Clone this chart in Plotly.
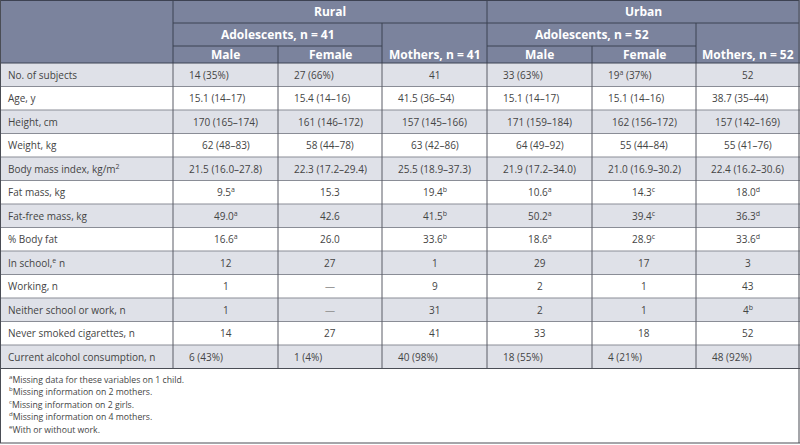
import plotly.graph_objects as go

# ---------------- data ----------------
row_labels = ["No. of subjects", "Age, y", "Height, cm", "Weight, kg",
              "Body mass index, kg/m<sup>2</sup>", "Fat mass, kg", "Fat-free mass, kg",
              "% Body fat", "In school,<sup>e</sup> n", "Working, n",
              "Neither school or work, n", "Never smoked cigarettes, n",
              "Current alcohol consumption, n"]
rural_male = ["14 (35%)", "15.1 (14–17)", "170 (165–174)", "62 (48–83)", "21.5 (16.0–27.8)",
              "9.5<sup>a</sup>", "49.0<sup>a</sup>", "16.6<sup>a</sup>", "12", "1", "1", "14", "6 (43%)"]
rural_female = ["27 (66%)", "15.4 (14–16)", "161 (146–172)", "58 (44–78)", "22.3 (17.2–29.4)",
                "15.3", "42.6", "26.0", "27", "—", "—", "27", "1 (4%)"]
rural_mothers = ["41", "41.5 (36–54)", "157 (145–166)", "63 (42–86)", "25.5 (18.9–37.3)",
                 "19.4<sup>b</sup>", "41.5<sup>b</sup>", "33.6<sup>b</sup>", "1", "9", "31", "41", "40 (98%)"]
urban_male = ["33 (63%)", "15.1 (14–17)", "171 (159–184)", "64 (49–92)", "21.9 (17.2–34.0)",
              "10.6<sup>a</sup>", "50.2<sup>a</sup>", "18.6<sup>a</sup>", "29", "2", "2", "33", "18 (55%)"]
urban_female = ["19<sup>a</sup> (37%)", "15.1 (14–16)", "162 (156–172)", "55 (44–84)", "21.0 (16.9–30.2)",
                "14.3<sup>c</sup>", "39.4<sup>c</sup>", "28.9<sup>c</sup>", "17", "1", "1", "18", "4 (21%)"]
urban_mothers = ["52", "38.7 (35–44)", "157 (142–169)", "55 (41–76)", "22.4 (16.2–30.6)",
                 "18.0<sup>d</sup>", "36.3<sup>d</sup>", "33.6<sup>d</sup>", "3", "43", "4<sup>b</sup>", "52", "48 (92%)"]
group_labels = ["Rural", "Urban"]
subgroup_labels = ["Adolescents, n = 41", "Mothers, n = 41", "Adolescents, n = 52", "Mothers, n = 52"]
sex_labels = ["Male", "Female", "Male", "Female"]
footnotes = ["<sup>a</sup>Missing data for these variables on 1 child.",
             "<sup>b</sup>Missing information on 2 mothers.",
             "<sup>c</sup>Missing information on 2 girls.",
             "<sup>d</sup>Missing information on 4 mothers.",
             "<sup>e</sup>With or without work."]

# ---------------- layout constants ----------------
W, H = 800, 445
col_edges = [0, 173, 278, 382, 487, 592, 696, 799]
hdr = [0, 23, 46, 63]
row_h = 23.5
n_rows = len(row_labels)
body_top = hdr[3]
body_bot = body_top + row_h * n_rows
foot_bot = 443

HDR_FILL = "#7b839d"
ROW_FILL = "#dfe1e8"
HDR_LINE = "#3d4252"
BODY_LINE = "#8a8d96"
TXT = "#444444"
FONT = "Open Sans"
HDR_SIZE = 12

shapes = []
ann = []

def rect(x0, y0, x1, y1, fill):
    shapes.append(dict(type="rect", xref="x", yref="y", x0=x0, y0=y0, x1=x1, y1=y1,
                       fillcolor=fill, line=dict(width=0), layer="below"))

def line(x0, y0, x1, y1, color, w=1):
    shapes.append(dict(type="line", xref="x", yref="y", x0=x0, y0=y0, x1=x1, y1=y1,
                       line=dict(color=color, width=w)))

def text(x, y, s, anchor="center", size=10, color=TXT, bold=False):
    ann.append(dict(x=x, y=y, xref="x", yref="y", text=("<b>%s</b>" % s) if bold else s,
                    showarrow=False, xanchor=anchor, yanchor="middle",
                    font=dict(family=FONT, size=size, color=color)))

# header background
rect(0, 0, W, hdr[3], HDR_FILL)
# body alternating rows
for i in range(n_rows):
    if i % 2 == 0:
        rect(0, body_top + i * row_h, W, body_top + (i + 1) * row_h, ROW_FILL)

# header lines
line(col_edges[1], hdr[1], col_edges[7], hdr[1], HDR_LINE)
line(col_edges[1], hdr[2], col_edges[3], hdr[2], HDR_LINE)
line(col_edges[4], hdr[2], col_edges[6], hdr[2], HDR_LINE)
line(col_edges[1], hdr[0], col_edges[1], hdr[3], HDR_LINE)
line(col_edges[4], hdr[0], col_edges[4], hdr[3], HDR_LINE)
line(col_edges[3], hdr[1], col_edges[3], hdr[3], HDR_LINE)
line(col_edges[6], hdr[1], col_edges[6], hdr[3], HDR_LINE)
line(col_edges[2], hdr[2], col_edges[2], hdr[3], HDR_LINE)
line(col_edges[5], hdr[2], col_edges[5], hdr[3], HDR_LINE)

# body lines
for i in range(1, n_rows):
    y = body_top + i * row_h
    line(0, y, W, y, BODY_LINE)
for xe in col_edges[1:-1]:
    line(xe, body_top, xe, body_bot, "#5a5d66")
line(0, hdr[3], W, hdr[3], HDR_LINE)
line(0, body_bot, W, body_bot, "#4a4d55")

# outer border
line(0.5, 0.5, W - 1, 0.5, HDR_LINE)
line(0.5, 0, 0.5, foot_bot, "#4a4d55")
line(W - 1, 0, W - 1, foot_bot, "#4a4d55")
line(0, foot_bot, W, foot_bot, "#4a4d55")

# header text
WHITE = "#ffffff"
text((col_edges[1] + col_edges[4]) / 2, (hdr[0] + hdr[1]) / 2, group_labels[0], size=HDR_SIZE, color=WHITE, bold=True)
text((col_edges[4] + col_edges[7]) / 2, (hdr[0] + hdr[1]) / 2, group_labels[1], size=HDR_SIZE, color=WHITE, bold=True)
text((col_edges[1] + col_edges[3]) / 2, (hdr[1] + hdr[2]) / 2, subgroup_labels[0], size=HDR_SIZE, color=WHITE, bold=True)
text((col_edges[3] + col_edges[4]) / 2, (hdr[2] + hdr[3]) / 2, subgroup_labels[1], size=HDR_SIZE, color=WHITE, bold=True)
text((col_edges[4] + col_edges[6]) / 2, (hdr[1] + hdr[2]) / 2, subgroup_labels[2], size=HDR_SIZE, color=WHITE, bold=True)
text((col_edges[6] + col_edges[7]) / 2, (hdr[2] + hdr[3]) / 2, subgroup_labels[3], size=HDR_SIZE, color=WHITE, bold=True)
for k, ci in enumerate([1, 2, 4, 5]):
    text((col_edges[ci] + col_edges[ci + 1]) / 2, (hdr[2] + hdr[3]) / 2, sex_labels[k], size=HDR_SIZE, color=WHITE, bold=True)

# body text
columns = [rural_male, rural_female, rural_mothers, urban_male, urban_female, urban_mothers]
left_rows = {0, 1, n_rows - 1}
for i, lab in enumerate(row_labels):
    yc = body_top + (i + 0.5) * row_h
    text(col_edges[0] + 6, yc, lab, anchor="left")
    for j, col in enumerate(columns):
        v = col[i]
        x0, x1 = col_edges[j + 1], col_edges[j + 2]
        if i in left_rows and not v.isdigit():
            text(x0 + 14, yc, v, anchor="left")
        else:
            text((x0 + x1) / 2, yc, v, color="#9a9a9a" if v == "—" else TXT)

# footnotes
for k, f in enumerate(footnotes):
    text(7, body_bot + 11 + k * 12.4, f, anchor="left", size=8.7)

fig = go.Figure()
fig.add_trace(go.Scatter(x=[0, W], y=[0, H], mode="markers", marker=dict(opacity=0), hoverinfo="skip", showlegend=False))
fig.update_layout(
    width=W, height=H, margin=dict(l=0, r=0, t=0, b=0),
    paper_bgcolor="white", plot_bgcolor="white",
    xaxis=dict(range=[0, W], visible=False, fixedrange=True),
    yaxis=dict(range=[H, 0], visible=False, fixedrange=True),
    shapes=shapes, annotations=ann, showlegend=False,
)
fig.write_html("out.html", config={"displayModeBar": False},
               post_script="document.body.style.margin='0';document.body.style.overflow='hidden';")
